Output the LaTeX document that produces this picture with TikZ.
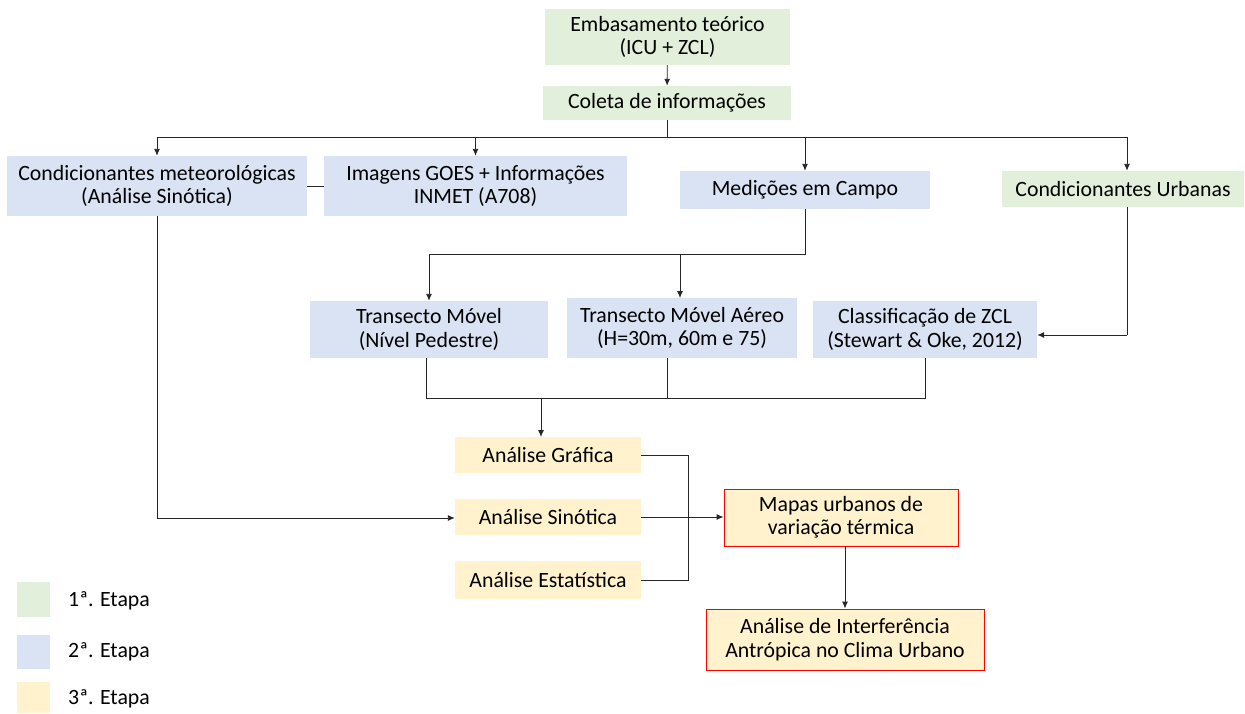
\documentclass[tikz,border=0pt]{standalone}
\usepackage{fontspec}
\setmainfont{Carlito}
\usetikzlibrary{arrows.meta}
\definecolor{cgreen}{HTML}{E2EFDA}
\definecolor{cblue}{HTML}{DAE3F3}
\definecolor{cyellow}{HTML}{FFF2CC}
\definecolor{cred}{HTML}{FF0000}
\definecolor{cline}{HTML}{262626}
\begin{document}
\begin{tikzpicture}[x=1pt,y=-1pt,
  box/.style={rectangle, inner sep=0pt, align=center, font=\fontsize{21.8}{23.5}\selectfont, text=black},
  g/.style={box, fill=cgreen},
  b/.style={box, fill=cblue},
  yl/.style={box, fill=cyellow},
  rd/.style={box, fill=cyellow, draw=cred, line width=0.9pt},
  conn/.style={draw=cline, line width=0.9pt},
  arr/.style={conn, -{Latex[length=7pt,width=6pt]}},
  leg/.style={font=\fontsize{21.8}{23.5}\selectfont, anchor=west, inner sep=0pt}
]
\useasboundingbox (0,0) rectangle (1245,713);

\node[g, minimum width=245pt, minimum height=56pt] (emb) at (667.5,37) {Embasamento teórico\\(ICU + ZCL)};
\node[g, minimum width=248pt, minimum height=34pt] (col) at (667,103) {Coleta de informações};
\node[b, minimum width=300pt, minimum height=60pt] (met) at (157,186) {Condicionantes meteorológicas\\(Análise Sinótica)};
\node[b, minimum width=303pt, minimum height=60pt] (img) at (475.5,186) {Imagens GOES + Informações\\INMET (A708)};
\node[b, minimum width=250pt, minimum height=38pt] (med) at (805,190) {Medições em Campo};
\node[g, minimum width=242pt, minimum height=36pt] (urb) at (1123,189) {Condicionantes Urbanas};
\node[b, minimum width=238pt, minimum height=57pt] (tm) at (429,329.5) {Transecto Móvel\\(Nível Pedestre)};
\node[b, minimum width=230pt, minimum height=60pt] (tma) at (682,328) {Transecto Móvel Aéreo\\(H=30m, 60m e 75)};
\node[b, minimum width=224pt, minimum height=57pt] (zcl) at (925,329.5) {Classificação de ZCL\\(Stewart \& Oke, 2012)};
\node[yl, minimum width=186pt, minimum height=36pt] (ag) at (548,455) {Análise Gráfica};
\node[yl, minimum width=186pt, minimum height=36pt] (as) at (548,517) {Análise Sinótica};
\node[yl, minimum width=186pt, minimum height=38pt] (ae) at (548,580) {Análise Estatística};
\node[rd, minimum width=234pt, minimum height=57pt] (map) at (841,517.5) {Mapas urbanos de\\variação térmica};
\node[rd, minimum width=278pt, minimum height=61pt] (ai) at (845,639.5) {Análise de Interferência\\Antrópica no Clima Urbano};

% legend
\node[g, minimum width=33pt, minimum height=35pt] (l1) at (33.5,599.5) {};
\node[b, minimum width=33pt, minimum height=34pt] (l2) at (33.5,652) {};
\node[yl, minimum width=33pt, minimum height=31pt] (l3) at (33.5,697.5) {};
\node[leg] (t1) at (68,601) {1ª. Etapa};
\node[leg] (t2) at (68,652) {2ª. Etapa};
\node[leg] (t3) at (68,699) {3ª. Etapa};

% connectors
\draw[arr] (emb) -- (col);
\coordinate (hub) at (667,137);
\coordinate (hL) at (157,137);
\coordinate (hR) at (1127,137);
\draw[conn] (col.south) -- (hub);
\draw[conn] (hL) -- (hR);
\draw[arr] (hL) -- (met.north);
\draw[arr] (hub -| img.north) -- (img.north);
\draw[arr] (hub -| med.north) -- (med.north);
\draw[arr] (hR) -- (hR |- urb.north);
\draw[conn] (met.east) -- (img.west);

\coordinate (mb) at (805,254);
\draw[conn] (med.south) -- (mb) -- (mb -| tm.north);
\draw[arr] (mb -| tm.north) -- (tm.north);
\draw[arr] (mb -| 680,0) -- (680,298);

\coordinate (ub) at (1127,335);
\draw[conn] (hR |- urb.south) -- (ub);
\draw[arr] (ub) -- (ub -| zcl.east);

\coordinate (jL) at (426,398);
\coordinate (jR) at (925,398);
\draw[conn] (426,358) -- (jL) -- (jR) -- (zcl.south);
\draw[conn] (667,358) -- (667,398);
\draw[arr] (541,398) -- (541,437);

\coordinate (br) at (688,455);
\draw[conn] (ag.east) -- (br) -- (br |- ae.east) -- (ae.east);
\draw[arr] (as.east) -- (as.east -| map.west);
\draw[arr] (845,546) -- (ai.north);

\coordinate (mlb) at (157,518);
\draw[conn] (met.south) -- (mlb);
\draw[arr] (mlb) -- (as.west |- mlb);
\end{tikzpicture}
\end{document}
